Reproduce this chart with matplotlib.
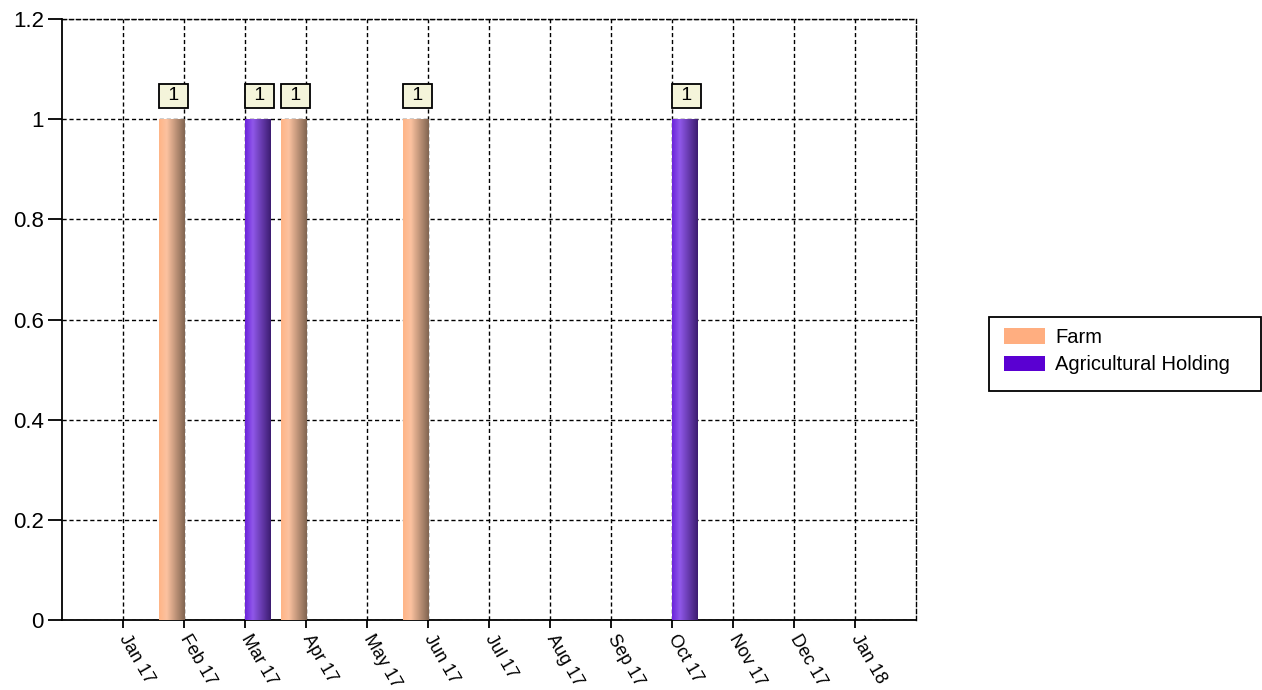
import matplotlib
matplotlib.use("Agg")
import matplotlib.pyplot as plt
import numpy as np
from matplotlib.patches import Patch, Rectangle
from matplotlib.colors import LinearSegmentedColormap

months = ["Jan 17", "Feb 17", "Mar 17", "Apr 17", "May 17", "Jun 17", "Jul 17",
          "Aug 17", "Sep 17", "Oct 17", "Nov 17", "Dec 17", "Jan 18"]
farm_months = ["Feb 17", "Apr 17", "Jun 17"]
farm_values = [1, 1, 1]
ah_months = ["Mar 17", "Oct 17"]
ah_values = [1, 1]
series_names = ["Farm", "Agricultural Holding"]
series_colors = ["#FFAE80", "#5A00D2"]

plt.rcParams['font.family'] = ['Liberation Sans', 'DejaVu Sans']

fig = plt.figure(figsize=(12.62, 6.9), dpi=100)
ax = fig.add_axes([62/1262, 1-620/690, (916-62)/1262, (620-19)/690])

width = 0.41
idx = {m: i for i, m in enumerate(months)}

farm_cmap = LinearSegmentedColormap.from_list(
    "farm", [(0, "#FFB486"), (0.3, "#FCC2A0"), (1, "#806450")])
ah_cmap = LinearSegmentedColormap.from_list(
    "ah", [(0, "#6A22DA"), (0.3, "#9058EA"), (1, "#3C1C70")])

grad = np.linspace(0, 1, 256).reshape(1, -1)

def draw(mlist, vals, offset, cmap):
    xs = [idx[m] + offset for m in mlist]
    bars = ax.bar(xs, vals, width=width, color="none", edgecolor="none", zorder=3)
    for b, v in zip(bars, vals):
        x0 = b.get_x()
        im = ax.imshow(grad, cmap=cmap, aspect="auto",
                       extent=[x0, x0 + b.get_width(), 0, b.get_height()],
                       zorder=3, interpolation="bicubic")
        im.set_clip_path(b)
        ax.annotate(f" {v:g} ", (b.get_x() + b.get_width()/2 + 0.03, v),
                    xytext=(0, 10.7), textcoords="offset points",
                    ha="center", va="bottom", fontsize=14, zorder=5,
                    bbox=dict(boxstyle="square,pad=0.18", fc="#F4F4DA",
                              ec="black", lw=1.3))

draw(farm_months, farm_values, -width/2, farm_cmap)
draw(ah_months, ah_values, width/2, ah_cmap)

ax.set_xlim(-1, 13)
ax.set_ylim(0, 1.2)
ax.set_xticks(range(len(months)))
ax.set_xticklabels(months, rotation=-60, ha="left", va="center",
                   rotation_mode="anchor", fontsize=13)
yt = [0, 0.2, 0.4, 0.6, 0.8, 1.0, 1.2]
ax.set_yticks(yt)
ax.set_yticklabels([f"{v:g}" for v in yt], fontsize=16)
ax.grid(True, color="black", linestyle=(0, (3, 2)), linewidth=1, zorder=1)
ax.set_axisbelow(True)
ax.tick_params(axis="y", length=10, width=1.3, direction="out", pad=3)
ax.tick_params(axis="x", length=6, width=1.3, direction="out", pad=5)
for s in ["right", "top"]:
    ax.spines[s].set_linestyle((0, (3, 2)))
    ax.spines[s].set_linewidth(1)
for s in ["left", "bottom"]:
    ax.spines[s].set_linewidth(1.3)

handles = [Patch(facecolor=c, edgecolor="none") for c in series_colors]
leg = fig.legend(handles, series_names, loc="upper left",
                 bbox_to_anchor=(1004/1262, 1-328/690), fontsize=14.5,
                 frameon=False, handlelength=2.05, handleheight=0.8,
                 borderpad=0, labelspacing=0.42, handletextpad=0.5,
                 borderaxespad=0)
fig.patches.append(Rectangle((989/1262, 1-391/690), (1261-989)/1262,
                             (391-317)/690, transform=fig.transFigure,
                             fill=False, edgecolor="black", linewidth=1.3))

fig.savefig("out.png", dpi=100)
